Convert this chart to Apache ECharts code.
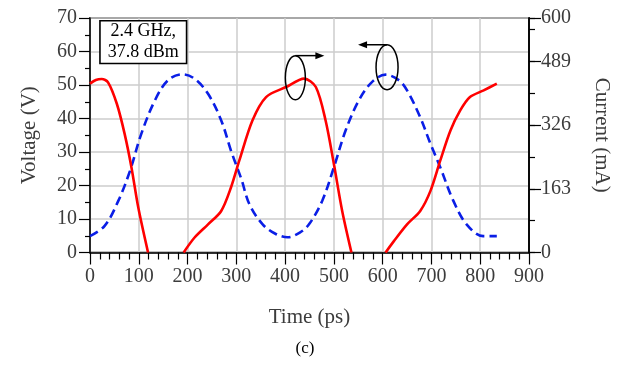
<!DOCTYPE html>
<html>
<head>
<meta charset="utf-8">
<script src="https://cdn.jsdelivr.net/npm/echarts@6/dist/echarts.min.js"></script>
<style>
html,body{margin:0;padding:0;background:#fff;}
#chart{width:620px;height:367px;}
</style>
</head>
<body>
<div id="chart"></div>
<script>
// Voltage (red, left axis), time in ps
const redTime = [0, 12, 24, 37, 55, 71, 85, 99, 119, 155, 192, 214, 242, 269, 289, 306, 333, 361, 402, 439, 463, 483, 500, 517, 536, 570, 606, 623, 650, 677, 698, 718, 739, 759, 779, 807, 834];
const redVoltage = [50.4, 51.5, 51.8, 50.8, 44.4, 35.4, 25.4, 13.4, 0, null, 0, 4.4, 8.4, 12.4, 19.4, 27.4, 39.4, 46.4, 49.4, 51.9, 49.4, 39.4, 26.4, 12.4, 0, null, 0, 3.4, 8.4, 12.4, 18.4, 27.4, 36.4, 42.4, 46.4, 48.4, 50.4];
// Current (blue dashed, right axis), mA
const blueTime = [0, 30, 58, 82, 105, 133, 160, 190, 214, 242, 269, 290, 310, 327, 354, 380, 405, 430, 449, 476, 500, 524, 551, 578, 606, 633, 650, 677, 698, 718, 745, 772, 806, 834];
const blueCurrent = [42, 68, 132, 209, 303, 389, 441, 456, 445, 406, 338, 257, 189, 123, 72, 48, 39, 51, 72, 132, 218, 312, 389, 436, 455, 441, 415, 346, 278, 218, 132, 72, 42, 42];
// Axis labels
const rightLabels = [0, 163, 326, 489, 600];
const boxText = ['2.4 GHz,', '37.8 dBm'];

const FONT = '"Liberation Serif", "Times New Roman", serif';
const TXT = '#3c3c3c';

const chart = echarts.init(document.getElementById('chart'), null, {renderer: 'canvas'});

const redData = redTime.map((t, i) => [t, redVoltage[i] === null ? '-' : redVoltage[i]]);
const blueData = blueTime.map((t, i) => [t, blueCurrent[i]]);

chart.setOption({
  animation: false,
  backgroundColor: '#fff',
  grid: {left: 90, right: 89, top: 18, height: 234.5, show: true, borderColor: '#000', borderWidth: 1.5, backgroundColor: 'transparent'},
  xAxis: {
    type: 'value', min: 0, max: 900, interval: 100,
    name: 'Time (ps)', nameLocation: 'middle', nameGap: 54,
    nameTextStyle: {fontFamily: FONT, fontSize: 21, color: TXT},
    axisLine: {lineStyle: {color: '#000', width: 1.5}},
    axisTick: {inside: false, length: 12, lineStyle: {color: '#000', width: 1.2}},
    minorTick: {show: true, splitNumber: 5, length: 7, lineStyle: {color: '#000', width: 1.2}},
    axisLabel: {fontFamily: FONT, fontSize: 20, color: TXT, margin: 14},
    splitLine: {show: true, lineStyle: {color: '#cccccc', width: 1.5}}
  },
  yAxis: [
    {
      type: 'value', min: 0, max: 70, interval: 10, position: 'left',
      name: 'Voltage (V)', nameLocation: 'middle', nameGap: 50,
      nameTextStyle: {fontFamily: FONT, fontSize: 21, color: TXT},
      axisLine: {show: true, lineStyle: {color: '#000', width: 1.5}},
      axisTick: {show: true, length: 11, lineStyle: {color: '#000', width: 1.2}},
      minorTick: {show: true, splitNumber: 2, length: 5, lineStyle: {color: '#000', width: 1.2}},
      axisLabel: {fontFamily: FONT, fontSize: 20, color: TXT, margin: 13},
      splitLine: {show: true, lineStyle: {color: '#cccccc', width: 1.5}}
    },
    {
      type: 'value', min: 0, max: 600, interval: 163, position: 'right',
      name: 'Current (mA)', nameLocation: 'middle', nameGap: 62, nameRotate: -90,
      nameTextStyle: {fontFamily: FONT, fontSize: 21, color: TXT},
      axisLine: {show: true, lineStyle: {color: '#000', width: 1.5}},
      axisTick: {show: true, length: 12, lineStyle: {color: '#000', width: 1.2}},
      axisLabel: {fontFamily: FONT, fontSize: 20, color: TXT, margin: 12, showMaxLabel: true,
        formatter: v => rightLabels.some(r => Math.abs(r - v) < 0.01) ? String(Math.round(v)) : ''},
      splitLine: {show: false}
    },
    {
      type: 'value', min: 0, max: 600, interval: 81.5, position: 'right', offset: 0,
      axisLine: {show: true, lineStyle: {color: '#000', width: 1.5}},
      axisTick: {show: true, length: 6, lineStyle: {color: '#000', width: 1.2}},
      axisLabel: {show: false},
      splitLine: {show: false}
    }
  ],
  series: [
    {
      type: 'line', yAxisIndex: 1, data: blueData, smooth: 0.35, showSymbol: false, z: 3,
      lineStyle: {color: '#0a1ee6', width: 2.6, type: [9, 5]}
    },
    {
      type: 'line', yAxisIndex: 0, data: redData, smooth: 0.3, showSymbol: false, z: 4,
      connectNulls: false,
      lineStyle: {color: '#ff0000', width: 2.6}
    }
  ]
});

function px(t, v) { return chart.convertToPixel({xAxisIndex: 0, yAxisIndex: 0}, [t, v]); }

const b1 = px(20.4, 69.2), b2 = px(198, 56.4);
const e1 = px(421, 52.2), e2 = px(609, 55.3);
const ry1 = 22, ry2 = 22.5;

chart.setOption({
  graphic: [
    {type: 'rect', z: 100, shape: {x: b1[0], y: b1[1], width: b2[0] - b1[0], height: b2[1] - b1[1]},
      style: {fill: '#fff', stroke: '#000', lineWidth: 1.6}},
    {type: 'text', z: 101, style: {text: boxText[0], x: (b1[0] + b2[0]) / 2, y: b1[1] + 11, align: 'center', verticalAlign: 'middle', font: '18px ' + FONT, fill: '#000'}},
    {type: 'text', z: 101, style: {text: boxText[1], x: (b1[0] + b2[0]) / 2, y: b1[1] + 32, align: 'center', verticalAlign: 'middle', font: '18px ' + FONT, fill: '#000'}},
    {type: 'ellipse', z: 100, shape: {cx: e1[0], cy: e1[1], rx: 10, ry: ry1}, style: {fill: 'none', stroke: '#000', lineWidth: 1.5}},
    {type: 'line', z: 100, shape: {x1: e1[0], y1: e1[1] - ry1, x2: e1[0] + 23, y2: e1[1] - ry1}, style: {stroke: '#000', lineWidth: 1.5}},
    {type: 'polygon', z: 100, shape: {points: [[e1[0] + 29, e1[1] - ry1], [e1[0] + 20, e1[1] - ry1 - 3.5], [e1[0] + 20, e1[1] - ry1 + 3.5]]}, style: {fill: '#000'}},
    {type: 'ellipse', z: 100, shape: {cx: e2[0], cy: e2[1], rx: 11, ry: ry2}, style: {fill: 'none', stroke: '#000', lineWidth: 1.5}},
    {type: 'line', z: 100, shape: {x1: e2[0], y1: e2[1] - ry2, x2: e2[0] - 23, y2: e2[1] - ry2}, style: {stroke: '#000', lineWidth: 1.5}},
    {type: 'polygon', z: 100, shape: {points: [[e2[0] - 29, e2[1] - ry2], [e2[0] - 20, e2[1] - ry2 - 3.5], [e2[0] - 20, e2[1] - ry2 + 3.5]]}, style: {fill: '#000'}},
    {type: 'text', z: 100, style: {text: '(c)', x: 305, y: 349, align: 'center', verticalAlign: 'middle', font: '17px ' + FONT, fill: '#000'}}
  ]
});
</script>
</body>
</html>
